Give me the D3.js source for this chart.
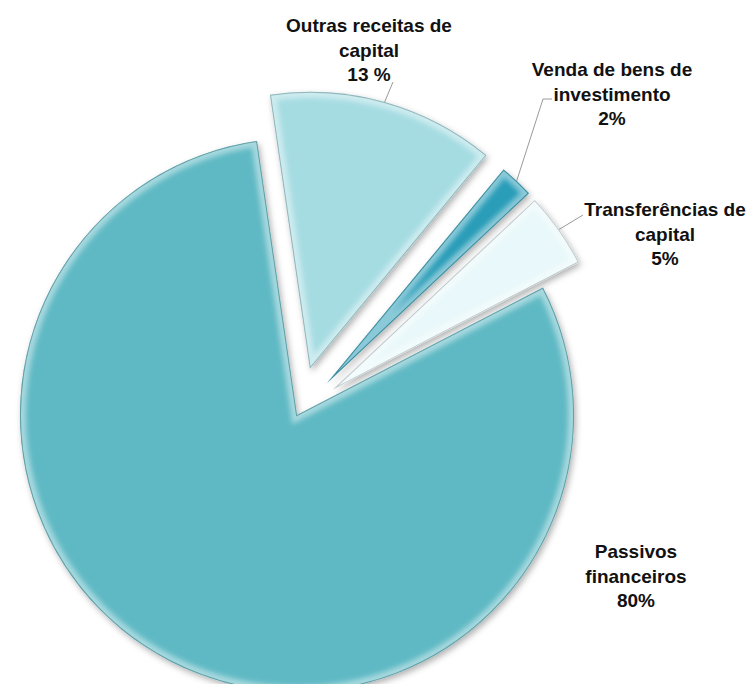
<!DOCTYPE html>
<html>
<head>
<meta charset="utf-8">
<script src="https://cdn.jsdelivr.net/npm/d3@7"></script>
<style>
  html, body { margin: 0; padding: 0; background: #fff; }
  #chart { width: 748px; height: 684px; }
  .label { font-family: 'Liberation Sans', Arial, sans-serif; font-weight: bold; font-size: 19px; fill: #111; }
</style>
</head>
<body>
<div id="chart"></div>
<script>
const categories = ['Outras receitas de capital', 'Venda de bens de investimento', 'Transferências de capital', 'Passivos financeiros']
const values = [13.3, 2.0, 4.4, 80.3]
const valueLabels = ['13 %', '2%', '5%', '80%']
const labelLines = [
  ['Outras receitas de', 'capital'],
  ['Venda de bens de', 'investimento'],
  ['Transferências de', 'capital'],
  ['Passivos', 'financeiros']
]
const colors = ['#a5dce2', '#2a9db8', '#e9f8fa', '#5fb9c4']
const explode = [48, 44, 44, 0]

const op = {
  width: 748,
  height: 684,
  cx: 297,
  cy: 415,
  r: 277,
  startDeg: -8.3,
  lineH: 24.5,
  // label anchors (centre x, first baseline y)
  labelPos: [[369, 32], [612, 76], [665, 216], [636, 558]],
  // leader line bends
  leaders: [
    [[393, 82]],
    [[543, 99], [552, 99]],
    [[583, 215]],
    null
  ]
}

const data = categories.map((c, i) => ({ name: c, value: values[i], i }))
const svg = d3.select('#chart').append('svg').attr('width', op.width).attr('height', op.height)

const defs = svg.append('defs')
const shadow = defs.append('filter').attr('id', 'shadow').attr('x', '-20%').attr('y', '-20%').attr('width', '140%').attr('height', '140%')
shadow.append('feDropShadow').attr('dx', 2).attr('dy', 3).attr('stdDeviation', 3).attr('flood-color', '#000').attr('flood-opacity', 0.3)
const blur = defs.append('filter').attr('id', 'soft')
blur.append('feGaussianBlur').attr('stdDeviation', 2.5)

const pie = d3.pie().sort(null).value(d => d.value)
  .startAngle(op.startDeg * Math.PI / 180)
  .endAngle(op.startDeg * Math.PI / 180 + 2 * Math.PI)
const arc = d3.arc().innerRadius(0).outerRadius(op.r)
const arcs = pie(data)

const off = d => {
  const a = (d.startAngle + d.endAngle) / 2
  const e = explode[d.data.i]
  return [Math.sin(a) * e, -Math.cos(a) * e]
}

const g = svg.append('g').attr('transform', `translate(${op.cx}, ${op.cy})`)

const slices = g.selectAll('.slice').data(arcs).enter()
  .append('g').classed('slice', true)
  .attr('transform', d => `translate(${off(d)[0]}, ${off(d)[1]})`)

slices.each(function (d) {
  let s = d3.select(this)
  let id = 'clip' + d.data.i
  defs.append('clipPath').attr('id', id).append('path').attr('d', arc(d))
  s.append('path').attr('d', arc(d)).attr('fill', colors[d.data.i]).attr('filter', 'url(#shadow)')
  // bevel: light inner band, darker edge
  let bevel = s.append('g').attr('clip-path', `url(#${id})`)
  bevel.append('path').attr('d', arc(d)).attr('fill', 'none')
    .attr('stroke', '#fff').attr('stroke-opacity', 0.45).attr('stroke-width', 12).attr('filter', 'url(#soft)')
  bevel.append('path').attr('d', arc(d)).attr('fill', 'none')
    .attr('stroke', d3.color(colors[d.data.i]).darker(0.9)).attr('stroke-opacity', 0.7).attr('stroke-width', 2)
})

// leader lines
arcs.forEach(d => {
  let bends = op.leaders[d.data.i]
  if (!bends) return
  let a = (d.startAngle + d.endAngle) / 2
  let o = off(d)
  let start = [op.cx + o[0] + Math.sin(a) * op.r, op.cy + o[1] - Math.cos(a) * op.r]
  svg.append('path')
    .attr('d', d3.line()([start].concat(bends)))
    .attr('fill', 'none').attr('stroke', '#9a9a9a').attr('stroke-width', 1)
})

// labels
arcs.forEach(d => {
  let i = d.data.i
  let [x, y] = op.labelPos[i]
  let t = svg.append('text').classed('label', true).attr('text-anchor', 'middle')
  labelLines[i].concat([valueLabels[i]]).forEach((line, k) => {
    t.append('tspan').attr('x', x).attr('y', y + k * op.lineH).text(line)
  })
})
</script>
</body>
</html>
